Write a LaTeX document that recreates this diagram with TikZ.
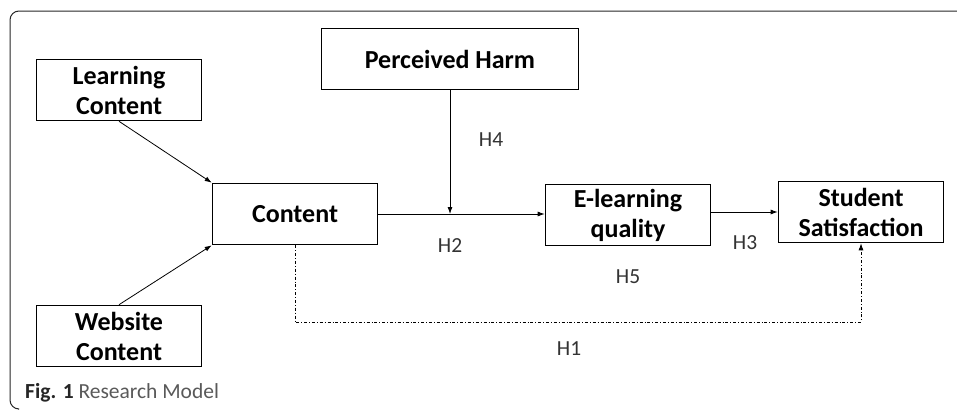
\documentclass[tikz,border=0pt]{standalone}
\usepackage{fontspec}
\setmainfont{Carlito}
\usetikzlibrary{arrows.meta}

\begin{document}
\begin{tikzpicture}[
		x=1pt, y=-1pt,
		>={Latex[length=7pt, width=5pt]},
		main/.style = {draw, line width=1.6pt, minimum width=165pt, minimum height=61pt,
			inner sep=0pt, align=center, font=\fontsize{26}{30}\selectfont\bfseries},
		hyp/.style = {text=black!80, font=\fontsize{21.5}{24}\selectfont, inner sep=0pt},
		link/.style = {->, line width=0.8pt},
		mediate/.style = {->, line width=0.8pt, dash dot}
	]
	\useasboundingbox (0,0) rectangle (957,410);
	\draw[black!85, line width=1pt, rounded corners=9pt] (957,11) -- (10,11) -- (10,409) -- (18,409);
	\node[main] (lc) at (119,90) {Learning\\Content};
	\node[main] (wc) at (119,336) {Website\\Content};
	\node[main] (ph) at (450,59) [minimum width=257pt] {Perceived Harm};
	\node[main] (ct) at (295,214) {Content};
	\node[main] (eq) at (628,215) {E-learning\\quality};
	\node[main] (ss) at (861,212) {Student\\Satisfaction};
	\coordinate (mod) at (450,214);
	\coordinate (c1) at (295,322);
	\coordinate (c2) at (861,322);
	\draw[link] (lc.south) -- (ct.north west);
	\draw[link] (wc.north) -- (ct.south west);
	\draw[link] (ct.east |- mod) -- (eq.west |- mod);
	\draw[link] (ph.south) -- (mod);
	\draw[link] (eq.east |- ss) -- (ss.west);
	\draw[mediate] (ct.south) -- (c1) -- (c2) -- (ss.south);
	\node[hyp] (h4) at (491,140) {H4};
	\node[hyp] (h2) at (450,246) {H2};
	\node[hyp] (h3) at (745,243) {H3};
	\node[hyp] (h5) at (628,277) {H5};
	\node[hyp] (h1) at (569,349) {H1};
	\node[anchor=west, inner sep=0pt, font=\fontsize{21.5}{24}\selectfont] (cap) at (25,393)
		{\textcolor{black!85}{\bfseries Fig. 1} \textcolor{black!65}{Research Model}};
\end{tikzpicture}
\end{document}
